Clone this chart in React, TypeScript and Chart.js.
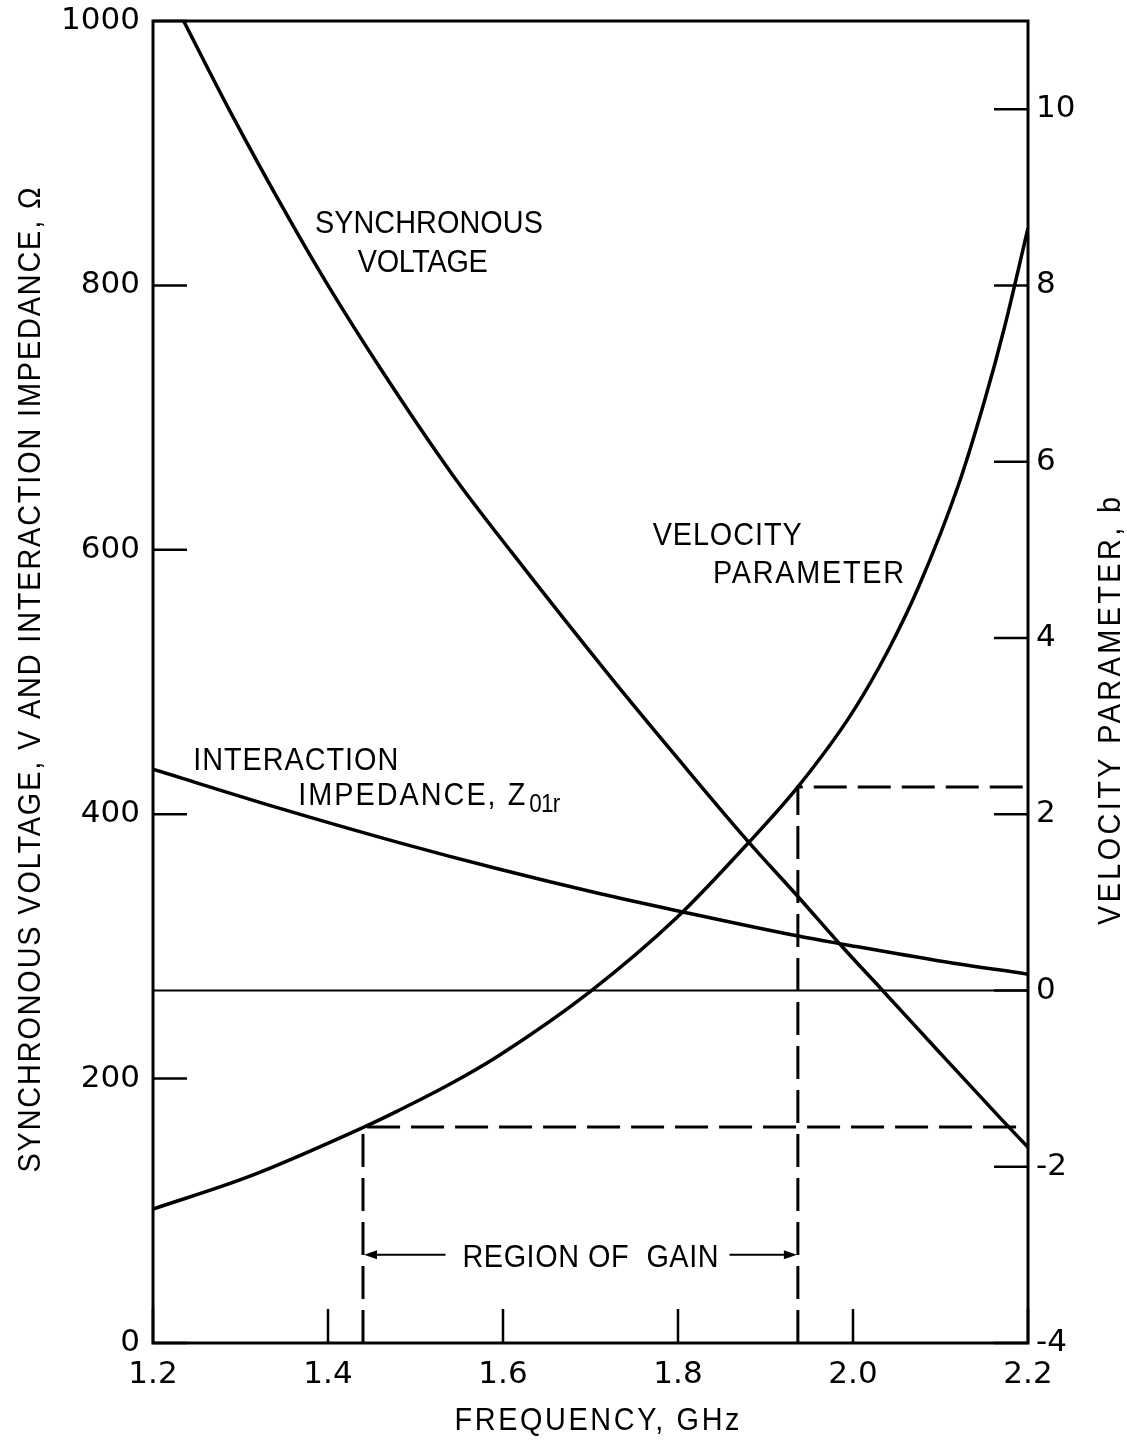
import React, { useEffect, useRef } from "react";
import { Chart, registerables } from "chart.js";

Chart.register(...registerables);

// ---- axis ticks ----
const xTicks = [1.2, 1.4, 1.6, 1.8, 2.0, 2.2];
const leftTicks = [0, 200, 400, 600, 800, 1000];
const rightTicks = [-4, -2, 0, 2, 4, 6, 8, 10];

// ---- synchronous voltage (left axis) ----
const voltageFreq = [1.235, 1.287, 1.355, 1.4, 1.462, 1.542, 1.61, 1.725, 1.8, 1.878, 1.938, 1.99, 2.032, 2.1, 2.17, 2.2];
const voltageValues = [1000, 933, 851, 800, 735, 657, 598, 502, 442, 381, 337, 298, 268, 219, 169, 148];

// ---- interaction impedance (left axis) ----
const impedanceFreq = [1.2, 1.347, 1.481, 1.595, 1.71, 1.799, 1.936, 1.99, 2.099, 2.2];
const impedanceValues = [434, 404, 378.5, 358.5, 340, 327, 308, 301.5, 289, 279];

// ---- velocity parameter b (right axis) ----
const velocityFreq = [1.2, 1.31, 1.441, 1.481, 1.538, 1.595, 1.7, 1.799, 1.88, 1.937, 1.999, 2.041, 2.075, 2.121, 2.15, 2.173, 2.2];
const velocityValues = [-2.48, -2.11, -1.55, -1.36, -1.07, -0.74, -0.01, 0.83, 1.67, 2.31, 3.15, 3.875, 4.58, 5.75, 6.68, 7.52, 8.65];

// ---- region of gain limits ----
const gainStart = { f: 1.44, b: -1.55 };
const gainEnd = { f: 1.937, b: 2.31 };
const gainArrowB = -3;

const FONT = '"Liberation Sans", Arial, Helvetica, sans-serif';
const TICK_FONT = '"DejaVu Sans", "Liberation Sans", sans-serif';
const SX = 0.9;

type LabelOpts = { size?: number; align?: CanvasTextAlign; rot?: number; width?: number };

function label(ctx: CanvasRenderingContext2D, text: string, x: number, y: number, o: LabelOpts = {}) {
  const size = o.size ?? 32;
  const align = o.align ?? "left";
  ctx.save();
  ctx.translate(x, y);
  if (o.rot) ctx.rotate(o.rot);
  ctx.scale(SX, 1);
  ctx.font = `${size}px ${FONT}`;
  ctx.fillStyle = "#000";
  ctx.textBaseline = "alphabetic";
  let drawX = 0;
  if (o.width) {
    const natural = ctx.measureText(text).width;
    const target = o.width / SX;
    const n = Math.max(text.length - 1, 1);
    const ls = (target - natural) / n;
    (ctx as any).letterSpacing = `${ls}px`;
    ctx.textAlign = "left";
    if (align === "center") drawX = -target / 2;
    else if (align === "right") drawX = -target;
  } else {
    ctx.textAlign = align;
  }
  ctx.fillText(text, drawX, 0);
  ctx.restore();
}

const decorPlugin = {
  id: "decor",
  beforeDraw(chart: any) {
    const ctx = chart.ctx as CanvasRenderingContext2D;
    ctx.save();
    ctx.fillStyle = "#fff";
    ctx.fillRect(0, 0, chart.width, chart.height);
    ctx.restore();
  },
  afterDatasetsDraw(chart: any) {
    const ctx = chart.ctx as CanvasRenderingContext2D;
    const { left, right, top, bottom } = chart.chartArea;
    const xs = chart.scales.x;
    const ys = chart.scales.y;
    const y2 = chart.scales.y2;
    ctx.save();
    ctx.strokeStyle = "#000";
    ctx.lineCap = "butt";

    // frame
    ctx.lineWidth = 3;
    ctx.strokeRect(left, top, right - left, bottom - top);

    // inward ticks
    ctx.lineWidth = 2.5;
    const TL = 34;
    ctx.beginPath();
    leftTicks.forEach((v) => {
      const py = ys.getPixelForValue(v);
      ctx.moveTo(left, py);
      ctx.lineTo(left + TL, py);
    });
    rightTicks.forEach((v) => {
      const py = y2.getPixelForValue(v);
      ctx.moveTo(right, py);
      ctx.lineTo(right - TL, py);
    });
    xTicks.forEach((v) => {
      const px = xs.getPixelForValue(v);
      ctx.moveTo(px, bottom);
      ctx.lineTo(px, bottom - TL);
    });
    ctx.stroke();

    // region of gain arrows
    const ay = y2.getPixelForValue(gainArrowB);
    const ax1 = xs.getPixelForValue(gainStart.f);
    const ax2 = xs.getPixelForValue(gainEnd.f);
    const textX = xs.getPixelForValue(1.7);
    const tw = 256;
    ctx.lineWidth = 2;
    ctx.beginPath();
    ctx.moveTo(ax1 + 10, ay);
    ctx.lineTo(textX - tw / 2 - 17, ay);
    ctx.moveTo(textX + tw / 2 + 11, ay);
    ctx.lineTo(ax2 - 10, ay);
    ctx.stroke();
    ctx.fillStyle = "#000";
    ctx.beginPath();
    ctx.moveTo(ax1 + 1, ay);
    ctx.lineTo(ax1 + 14, ay - 4.5);
    ctx.lineTo(ax1 + 14, ay + 4.5);
    ctx.closePath();
    ctx.moveTo(ax2 - 1, ay);
    ctx.lineTo(ax2 - 14, ay - 4.5);
    ctx.lineTo(ax2 - 14, ay + 4.5);
    ctx.closePath();
    ctx.fill();
    ctx.restore();

    label(ctx, "REGION OF  GAIN", textX, ay + 12, { align: "center", width: tw });

    // curve labels
    const X = (f: number) => xs.getPixelForValue(f);
    const Y = (v: number) => ys.getPixelForValue(v);
    label(ctx, "SYNCHRONOUS", X(1.385), Y(840), { width: 228 });
    label(ctx, "VOLTAGE", X(1.434), Y(810), { width: 130 });
    label(ctx, "VELOCITY", X(1.771), Y(603.6), { width: 149 });
    label(ctx, "PARAMETER", X(1.84), Y(575), { width: 191 });
    label(ctx, "INTERACTION", X(1.246), Y(433.4), { width: 205 });
    const ix = X(1.366);
    const iy = Y(407);
    label(ctx, "IMPEDANCE, Z", ix, iy, { width: 227 });
    label(ctx, "01r", ix + 231, iy + 7, { size: 25, width: 31 });

    // axis titles
    label(ctx, "FREQUENCY, GHz", 597, 1430, { align: "center", width: 285 });
    label(ctx, "SYNCHRONOUS VOLTAGE, V AND INTERACTION IMPEDANCE, \u03A9", 40, 680, {
      align: "center",
      rot: -Math.PI / 2,
      width: 985,
    });
    label(ctx, "VELOCITY PARAMETER, b", 1120, 711, { align: "center", rot: -Math.PI / 2, width: 428 });
  },
};

const xTickFont = { family: TICK_FONT, size: 31 };
const yTickFont = { family: TICK_FONT, size: 31, lineHeight: 0.5 };

export default function App() {
  const ref = useRef<HTMLCanvasElement | null>(null);

  useEffect(() => {
    if (!ref.current) return;
    const toXY = (xs: number[], ys: number[]) => xs.map((x, i) => ({ x, y: ys[i] }));
    const curve = {
      borderColor: "#000",
      borderWidth: 3.5,
      pointRadius: 0,
      fill: false,
      cubicInterpolationMode: "monotone" as const,
    };
    const chart = new Chart(ref.current, {
      type: "line",
      data: {
        datasets: [
          {
            label: "b = 0",
            data: [
              { x: 1.2, y: 0 },
              { x: 2.2, y: 0 },
            ],
            yAxisID: "y2",
            borderColor: "#000",
            borderWidth: 2,
            pointRadius: 0,
          },
          {
            label: "gain start",
            data: [
              { x: gainStart.f, y: -4 },
              { x: gainStart.f, y: gainStart.b },
              { x: 2.2, y: gainStart.b },
            ],
            yAxisID: "y2",
            borderColor: "#000",
            borderWidth: 3,
            borderDash: [33, 11],
            pointRadius: 0,
          },
          {
            label: "gain end",
            data: [
              { x: gainEnd.f, y: -4 },
              { x: gainEnd.f, y: gainEnd.b },
              { x: 2.2, y: gainEnd.b },
            ],
            yAxisID: "y2",
            borderColor: "#000",
            borderWidth: 3,
            borderDash: [33, 11],
            pointRadius: 0,
          },
          { label: "Synchronous voltage", data: toXY(voltageFreq, voltageValues), yAxisID: "y", ...curve },
          { label: "Interaction impedance", data: toXY(impedanceFreq, impedanceValues), yAxisID: "y", ...curve },
          { label: "Velocity parameter", data: toXY(velocityFreq, velocityValues), yAxisID: "y2", ...curve },
        ],
      },
      options: {
        animation: false,
        responsive: false,
        layout: { padding: { top: 21, left: 0, right: 0, bottom: 0 } },
        plugins: { legend: { display: false }, tooltip: { enabled: false } },
        scales: {
          x: {
            type: "linear",
            position: "bottom",
            min: 1.2,
            max: 2.2,
            grid: { display: false, drawTicks: false },
            border: { display: false },
            afterBuildTicks: (s: any) => {
              s.ticks = xTicks.map((v) => ({ value: v }));
            },
            afterFit: (s: any) => {
              s.height = 98;
            },
            ticks: {
              font: xTickFont,
              color: "#000",
              padding: 13,
              maxRotation: 0,
              autoSkip: false,
              callback: (v: any) => Number(v).toFixed(1),
            },
          },
          y: {
            type: "linear",
            position: "left",
            min: 0,
            max: 1000,
            grid: { display: false, drawTicks: false },
            border: { display: false },
            afterBuildTicks: (s: any) => {
              s.ticks = leftTicks.map((v) => ({ value: v }));
            },
            afterFit: (s: any) => {
              s.width = 153;
            },
            ticks: { font: yTickFont, color: "#000", padding: 13, callback: (v: any) => String(v) },
          },
          y2: {
            type: "linear",
            position: "right",
            min: -4,
            max: 11,
            grid: { display: false, drawTicks: false },
            border: { display: false },
            afterBuildTicks: (s: any) => {
              s.ticks = rightTicks.map((v) => ({ value: v }));
            },
            afterFit: (s: any) => {
              s.width = 99;
            },
            ticks: { font: yTickFont, color: "#000", padding: 8, callback: (v: any) => String(v) },
          },
        },
      },
      plugins: [decorPlugin],
    });
    return () => chart.destroy();
  }, []);

  return (
    <div style={{ position: "absolute", left: 0, top: 0, width: 1127, height: 1441, background: "#fff" }}>
      <canvas ref={ref} width={1127} height={1441} style={{ display: "block", width: 1127, height: 1441 }} />
    </div>
  );
}
